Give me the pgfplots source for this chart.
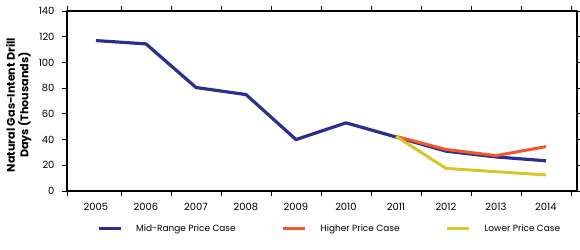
\documentclass[border=0pt]{standalone}
\usepackage{fontspec}
\setmainfont{Poppins}
\usepackage{pgfplots}
\pgfplotsset{compat=1.18}
\definecolor{midblue}{HTML}{2B2D8F}
\definecolor{hiorange}{HTML}{F2572B}
\definecolor{loyellow}{HTML}{D8C52A}
\begin{document}
\begin{tikzpicture}
\begin{axis}[
  scale only axis,width=510bp,height=180bp,
  xmin=2004.42,xmax=2014.62,ymin=0,ymax=140,
  xtick={2005,...,2014},
  minor xtick={2004.42,2005.5,2006.5,...,2014.5},
  ytick={0,20,...,140},
  tick align=outside,major tick length=5bp,minor tick length=5bp,
  major x tick style={draw=none},
  every tick/.style={black,line width=0.9bp},
  axis line style={black,line width=1.3bp},
  /pgf/number format/assume math mode=true,
  x tick label style={/pgf/number format/1000 sep={},font=\fontsize{10}{11}\selectfont,yshift=-4bp},
  y tick label style={font=\fontsize{10}{11}\selectfont,xshift=-4bp},
  ylabel={Natural Gas-Intent Drill\\Days (Thousands)},
  ylabel style={align=center,font=\fontsize{11.2}{13.5}\selectfont\bfseries,
    at={(axis description cs:-0.095,0.478)},anchor=center,rotate=0},
  legend style={draw=none,at={(0.515,-0.211)},anchor=center,legend columns=3,
    font=\fontsize{9}{10}\selectfont,
    /tikz/every even column/.append style={column sep=44bp}},
  legend image code/.code={\draw[#1,line width=3bp] (0bp,0bp) -- (22bp,0bp);\path (34bp,0bp);},
  line join=round,
]
\addplot[midblue,line width=3.2bp] coordinates {
  (2005,117) (2006,114.4) (2007,80.5) (2008,75) (2009,40) (2010,53)
  (2011,42) (2012,31) (2013,26.5) (2014,23.5)};
\addplot[hiorange,line width=3bp] coordinates {
  (2011,42.5) (2012,32.3) (2013,27.5) (2014,34.5)};
\addplot[loyellow,line width=3bp] coordinates {
  (2011,42.5) (2012,17.6) (2013,15) (2014,12.5)};
\legend{Mid-Range Price Case,Higher Price Case\hspace{14bp},Lower Price Case}
\end{axis}
\pgfresetboundingbox
\path ([xshift=-67bp,yshift=-59bp]current axis.south west) rectangle ([xshift=3bp,yshift=11bp]current axis.north east);
\end{tikzpicture}
\end{document}
